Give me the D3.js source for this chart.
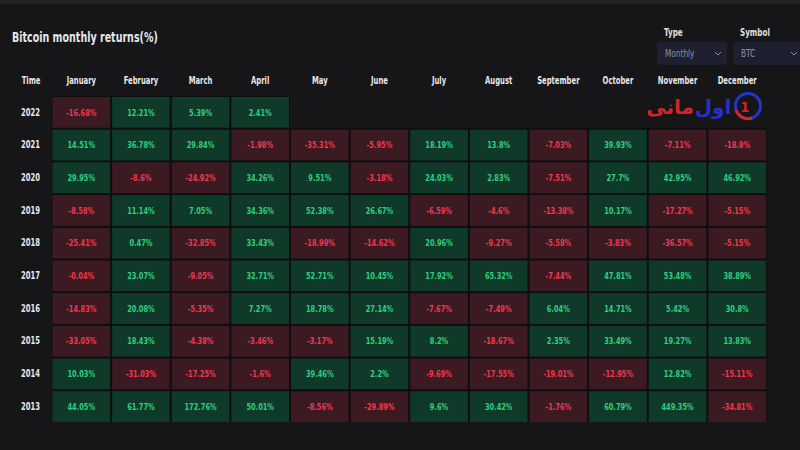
<!DOCTYPE html>
<html><head><meta charset="utf-8">
<script src="https://cdn.jsdelivr.net/npm/d3@7"></script>
<style>
html,body{margin:0;padding:0;background:#161618;}
svg{display:block;}
text{font-family:"DejaVu Sans Condensed","DejaVu Sans",sans-serif;}
</style></head>
<body>
<svg id="c" width="800" height="450"></svg>
<script>
const months = ["January","February","March","April","May","June","July","August","September","October","November","December"];
const years = ["2022","2021","2020","2019","2018","2017","2016","2015","2014","2013"];
const r2022 = [-16.68, 12.21, 5.39, 2.41];
const r2021 = [14.51, 36.78, 29.84, -1.98, -35.31, -5.95, 18.19, 13.8, -7.03, 39.93, -7.11, -18.9];
const r2020 = [29.95, -8.6, -24.92, 34.26, 9.51, -3.18, 24.03, 2.83, -7.51, 27.7, 42.95, 46.92];
const r2019 = [-8.58, 11.14, 7.05, 34.36, 52.38, 26.67, -6.59, -4.6, -13.38, 10.17, -17.27, -5.15];
const r2018 = [-25.41, 0.47, -32.85, 33.43, -18.99, -14.62, 20.96, -9.27, -5.58, -3.83, -36.57, -5.15];
const r2017 = [-0.04, 23.07, -9.05, 32.71, 52.71, 10.45, 17.92, 65.32, -7.44, 47.81, 53.48, 38.89];
const r2016 = [-14.83, 20.08, -5.35, 7.27, 18.78, 27.14, -7.67, -7.49, 6.04, 14.71, 5.42, 30.8];
const r2015 = [-33.05, 18.43, -4.38, -3.46, -3.17, 15.19, 8.2, -18.67, 2.35, 33.49, 19.27, 13.83];
const r2014 = [10.03, -31.03, -17.25, -1.6, 39.46, 2.2, -9.69, -17.55, -19.01, -12.95, 12.82, -15.11];
const r2013 = [44.05, 61.77, 172.76, 50.01, -8.56, -29.89, 9.6, 30.42, -1.76, 60.79, 449.35, -34.81];
const typeOptions = ["Monthly"];
const symbolOptions = ["BTC"];

const rowsByYear = {"2022":r2022,"2021":r2021,"2020":r2020,"2019":r2019,"2018":r2018,"2017":r2017,"2016":r2016,"2015":r2015,"2014":r2014,"2013":r2013};
const cells = [];
years.forEach(y => rowsByYear[y].forEach((v,i) => cells.push({year:y, month:months[i], value:v})));

const svg = d3.select("#c");
svg.append("rect").attr("width",800).attr("height",450).attr("fill","#161618");
svg.append("rect").attr("width",800).attr("height",4).attr("fill","#222226");

function ctext(parent, x, y, s, str){
  const g = parent.append("g").attr("transform",`translate(${x},${y}) scale(${s},1)`);
  return g.append("text").text(str);
}

ctext(svg,12,42,0.73,"Bitcoin monthly returns(%)").attr("fill","#e6e6e8")
  .attr("font-size",14.5).attr("font-weight","bold");

// controls
function dropdown(x, label, value, w){
  const g = svg.append("g").attr("transform",`translate(${x},0)`);
  ctext(g,7,36,0.8,label).attr("fill","#e0e0e2").attr("font-size",10).attr("font-weight","bold");
  g.append("rect").attr("x",0).attr("y",42).attr("width",w).attr("height",23).attr("rx",4).attr("fill","#1e2030");
  ctext(g,8,57,0.82,value).attr("fill","#8c90a6").attr("font-size",10);
  g.append("path").attr("d",`M${w-12},52 l3,3 l3,-3`).attr("fill","none").attr("stroke","#8c90a6").attr("stroke-width",1);
}
dropdown(657,"Type",typeOptions[0],70);
dropdown(733,"Symbol",symbolOptions[0],70);

const x = d3.scaleBand().domain(months).range([52.5,766]).paddingInner(0.034);
const y = d3.scaleBand().domain(years).range([97,422]).paddingInner(0.06);

svg.append("rect").attr("x",52).attr("y",y("2021")-2).attr("width",715).attr("height",422-y("2021")+2).attr("fill","#0e0e10");
svg.append("rect").attr("x",52).attr("y",96).attr("width",x("April")+x.bandwidth()-52+1).attr("height",y.bandwidth()+4).attr("fill","#0e0e10");

const green = "#0f3a2a", red = "#3c1a22";
const gtext = "#2fcf80", rtext = "#f0384f";

const cg = svg.append("g");
const cell = cg.selectAll("g").data(cells).join("g")
  .attr("transform", d => `translate(${x(d.month)},${y(d.year)})`);
cell.append("rect").attr("width",x.bandwidth()).attr("height",y.bandwidth())
  .attr("fill", d => d.value >= 0 ? green : red);
cell.append("g").attr("transform",`translate(${x.bandwidth()/2},${y.bandwidth()/2}) scale(0.82,1)`)
  .append("text").attr("dy","0.35em")
  .attr("text-anchor","middle").attr("font-size",9).attr("font-weight","bold")
  .attr("fill", d => d.value >= 0 ? gtext : rtext)
  .text(d => d.value + "%");

const xAxis = svg.append("g").attr("transform","translate(0,84)")
  .call(d3.axisTop(x).tickSize(0).tickPadding(0));
xAxis.select(".domain").remove();
xAxis.selectAll("text").attr("fill","#e8e8ea").attr("font-size",10).attr("font-weight","bold")
  .attr("transform","scale(0.76,1)")
  .style("font-family",'"DejaVu Sans Condensed",sans-serif');

const yAxis = svg.append("g").attr("transform","translate(40,0)")
  .call(d3.axisLeft(y).tickSize(0).tickPadding(0));
yAxis.select(".domain").remove();
yAxis.selectAll("text").attr("fill","#e8e8ea").attr("font-size",10).attr("font-weight","bold")
  .attr("transform","scale(0.76,1)")
  .style("font-family",'"DejaVu Sans Condensed",sans-serif');

ctext(svg,31,84,0.76,"Time").attr("text-anchor","middle").attr("fill","#e8e8ea")
  .attr("font-size",10).attr("font-weight","bold");

// watermark
const wm = svg.append("g");
wm.append("circle").attr("cx",748).attr("cy",106).attr("r",12.5).attr("fill","none").attr("stroke","#2336c8").attr("stroke-width",3);
wm.append("path").attr("d","M736,110 A12.5,12.5 0 0 0 752,118").attr("fill","none").attr("stroke","#d42424").attr("stroke-width",3);
wm.append("text").attr("x",745).attr("y",112).attr("text-anchor","middle").attr("fill","#d42424").attr("font-size",14).attr("font-weight","bold").text("1");
wm.append("text").attr("x",713).attr("y",114).attr("text-anchor","middle").attr("fill","#2530c8").attr("font-size",20).attr("font-weight","bold")
  .style("font-family","DejaVu Sans").text("اول");
wm.append("text").attr("x",670).attr("y",114).attr("text-anchor","middle").attr("fill","#d42424").attr("font-size",20).attr("font-weight","bold")
  .style("font-family","DejaVu Sans").text("مانی");
</script>
</body></html>
